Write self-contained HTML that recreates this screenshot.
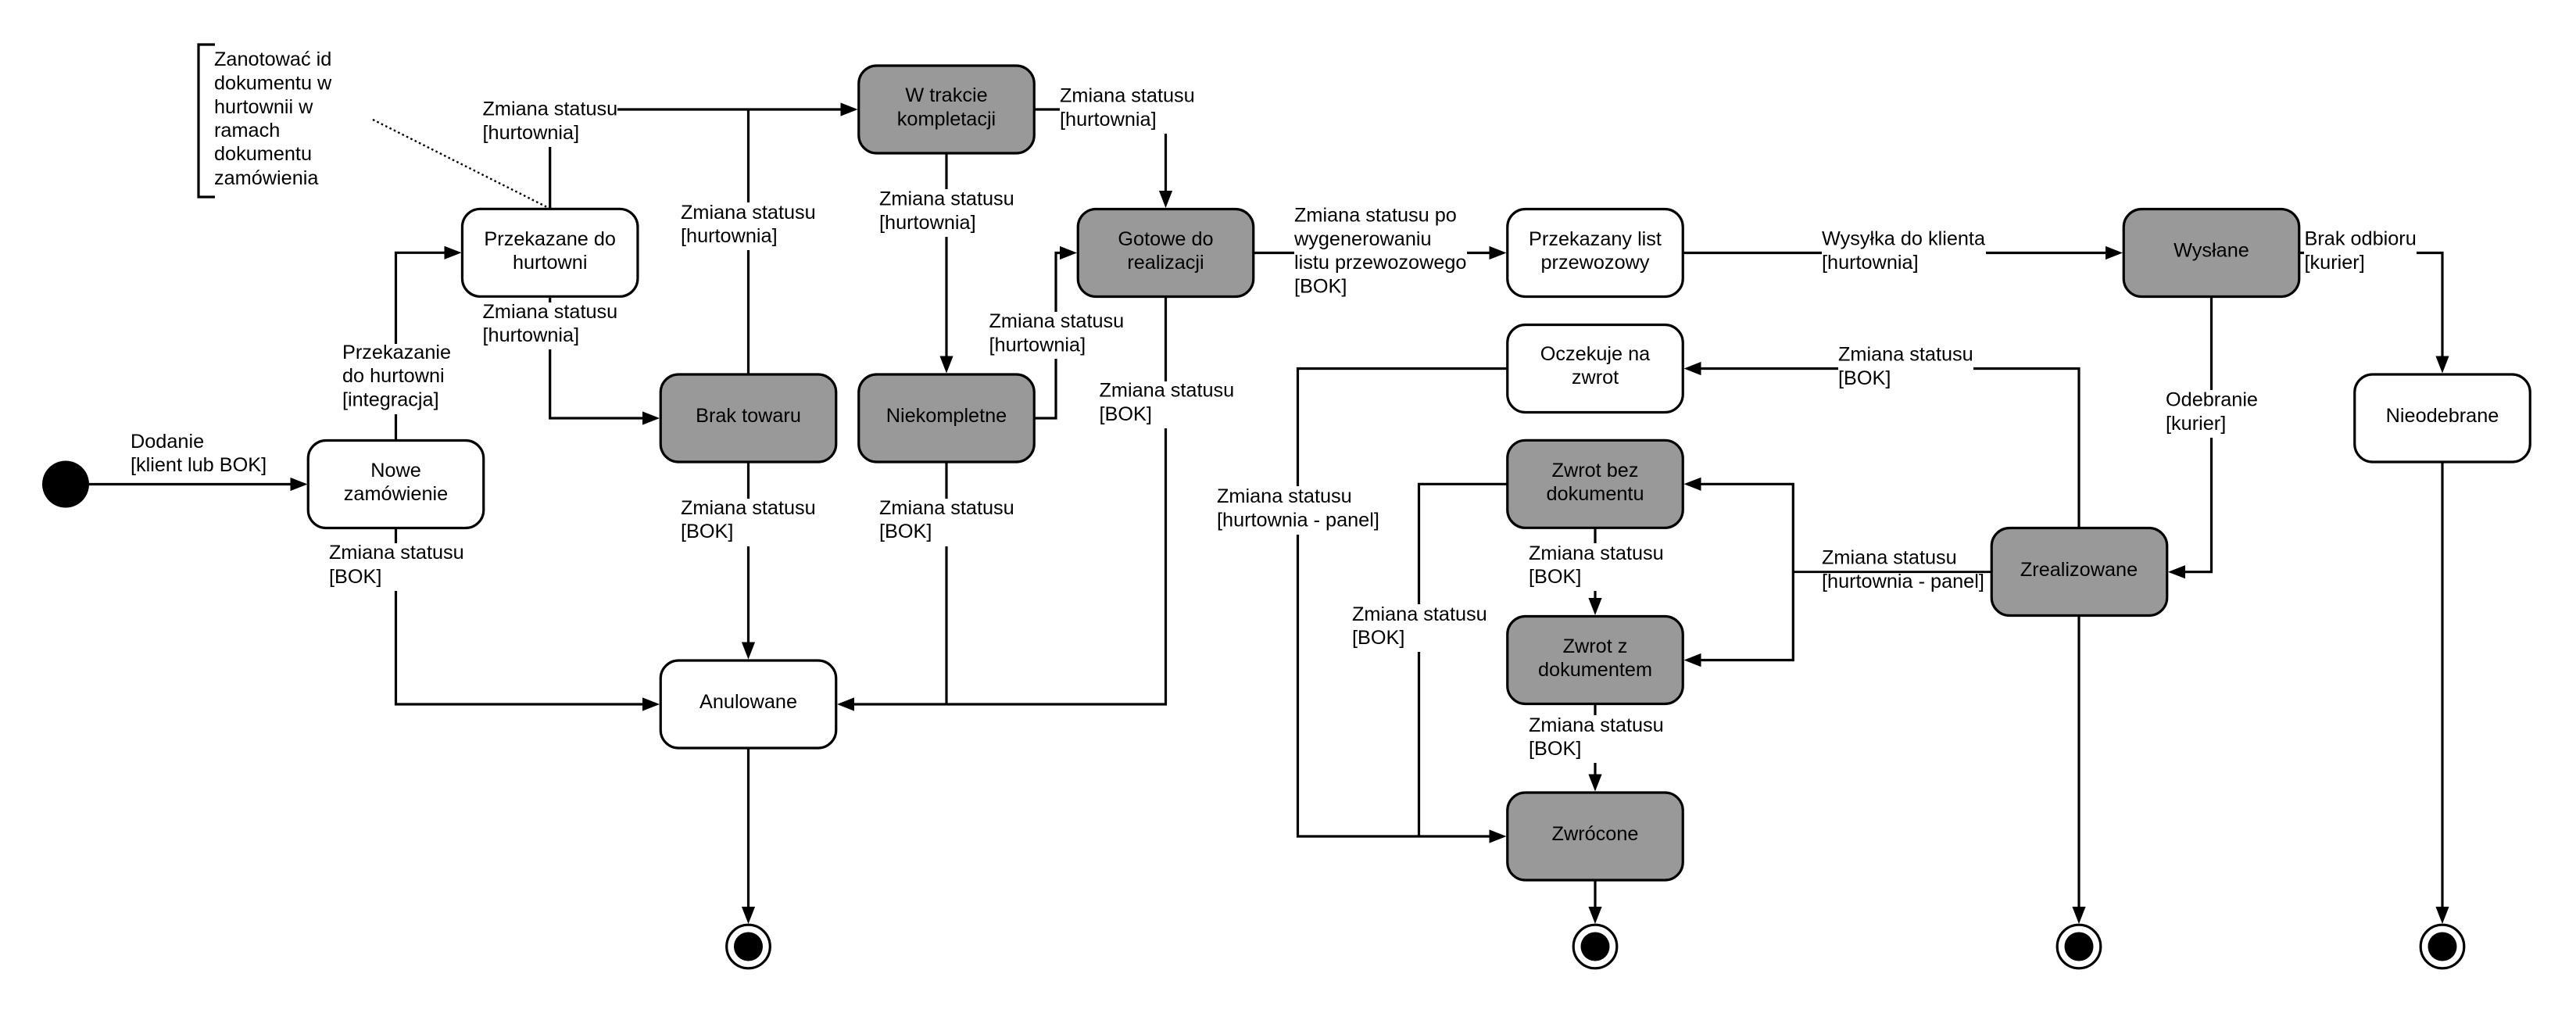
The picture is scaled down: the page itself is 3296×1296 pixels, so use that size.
<!DOCTYPE html>
<html lang="pl">
<head>
<meta charset="utf-8">
<title>Diagram stanów</title>
<style>
html,body{margin:0;padding:0;background:#fff;width:3296px;height:1296px;overflow:hidden}
svg{display:block}
text{font-family:"Liberation Sans",sans-serif;font-size:25.28px;fill:#000}
.c{text-anchor:middle}
.l{fill:none;stroke:#000;stroke-width:3.2}
.b{stroke:#000;stroke-width:3.2}
.w{fill:#fff}
.g{fill:#999}
.m{fill:#fff;stroke:none}
.a{fill:#000;stroke:none}
</style>
</head>
<body>
<svg width="3296" height="1296" viewBox="0 0 3296 1296" xmlns="http://www.w3.org/2000/svg">
<rect width="3296" height="1296" fill="#fff"/>

<!-- connectors -->
<path class="l" d="M114 619.5H375"/>
<path class="l" d="M506.5 563V323.3H572"/>
<path class="l" d="M506.5 677V901H825"/>
<path class="l" d="M703.7 267V140H1079"/>
<path class="l" d="M957.5 478V140"/>
<path class="l" d="M703.7 381V535H825"/>
<path class="l" d="M957.5 592V824"/>
<path class="l" d="M957.5 958V1162"/>
<path class="l" d="M1211 197V458"/>
<path class="l" d="M1211 592V901"/>
<path class="l" d="M1491.5 381V901H1091"/>
<path class="l" d="M1324 140H1491.5V247"/>
<path class="l" d="M1324 535H1351V323.5H1360"/>
<path class="l" d="M1604 323.5H1908"/>
<path class="l" d="M2154 323.5H2697"/>
<path class="l" d="M2942 323.5H3125V458"/>
<path class="l" d="M2829.5 381V731.7H2794"/>
<path class="l" d="M2660 675V471.5H2175"/>
<path class="l" d="M1928 471.5H1660.5V1070H1908"/>
<path class="l" d="M1928 619.3H1815.5V1070"/>
<path class="l" d="M2041 676V767"/>
<path class="l" d="M2041 902V993"/>
<path class="l" d="M2041 1127V1162"/>
<path class="l" d="M2660 789V1162"/>
<path class="l" d="M3125 592V1162"/>
<path class="l" d="M2175 619.3H2294.3V844.5H2175"/>
<path class="l" d="M2294.3 731.7H2547" style="stroke-width:2.8"/>
<path d="M477 153L700 265" fill="none" stroke="#000" stroke-width="2.4" stroke-dasharray="2.6 3.4"/>

<!-- label masks -->
<rect class="m" x="436" y="440" width="146" height="90"/>
<rect class="m" x="617" y="128" width="173" height="60"/>
<rect class="m" x="617" y="387" width="173" height="60"/>
<rect class="m" x="421" y="695" width="173" height="61"/>
<rect class="m" x="871" y="259" width="173" height="61"/>
<rect class="m" x="871" y="638" width="173" height="61"/>
<rect class="m" x="1125" y="242" width="173" height="61"/>
<rect class="m" x="1125" y="638" width="173" height="61"/>
<rect class="m" x="1356" y="110" width="173" height="61"/>
<rect class="m" x="1265" y="399" width="173" height="60"/>
<rect class="m" x="1406" y="488" width="173" height="60"/>
<rect class="m" x="1656" y="263" width="221" height="122"/>
<rect class="m" x="1557" y="622" width="208" height="62"/>
<rect class="m" x="1730" y="773" width="173" height="61"/>
<rect class="m" x="1956" y="695" width="173" height="61"/>
<rect class="m" x="1956" y="915" width="173" height="61"/>
<rect class="m" x="2331" y="293" width="210" height="61"/>
<rect class="m" x="2948" y="293" width="144" height="61"/>
<rect class="m" x="2352" y="441" width="173" height="61"/>
<rect class="m" x="2771" y="499" width="118" height="61"/>

<!-- arrowheads -->
<path class="a" d="M393.5 619.5l-22-8.6v17.2z"/>
<path class="a" d="M590.5 323.3l-22-8.6v17.2z"/>
<path class="a" d="M844 901l-22-8.6v17.2z"/>
<path class="a" d="M844 535l-22-8.6v17.2z"/>
<path class="a" d="M1097.5 140l-22-8.6v17.2z"/>
<path class="a" d="M1378 323.5l-22-8.6v17.2z"/>
<path class="a" d="M1927.5 323.5l-22-8.6v17.2z"/>
<path class="a" d="M2716 323.5l-22-8.6v17.2z"/>
<path class="a" d="M1927.5 1070l-22-8.6v17.2z"/>
<path class="a" d="M1071 901l22-8.6v17.2z"/>
<path class="a" d="M2154.5 471.5l22-8.6v17.2z"/>
<path class="a" d="M2154.5 619.3l22-8.6v17.2z"/>
<path class="a" d="M2154.5 844.5l22-8.6v17.2z"/>
<path class="a" d="M2774 731.7l22-8.6v17.2z"/>
<path class="a" d="M957.5 843.5l-8.6-22h17.2z"/>
<path class="a" d="M957.5 1182l-8.6-22h17.2z"/>
<path class="a" d="M1211 477.5l-8.6-22h17.2z"/>
<path class="a" d="M1491.5 266l-8.6-22h17.2z"/>
<path class="a" d="M2041 787l-8.6-22h17.2z"/>
<path class="a" d="M2041 1012.5l-8.6-22h17.2z"/>
<path class="a" d="M2041 1182l-8.6-22h17.2z"/>
<path class="a" d="M2660 1182l-8.6-22h17.2z"/>
<path class="a" d="M3125 1182l-8.6-22h17.2z"/>
<path class="a" d="M3125 477.5l-8.6-22h17.2z"/>

<!-- nodes -->
<circle cx="84" cy="619.5" r="30" fill="#000"/>
<rect class="b w" x="394.25" y="563.5" width="224.5" height="112" rx="23"/>
<rect class="b w" x="591.45" y="267.3" width="224.5" height="112" rx="23"/>
<rect class="b g" x="845.25" y="479" width="224.5" height="112" rx="23"/>
<rect class="b w" x="845.25" y="845" width="224.5" height="112" rx="23"/>
<rect class="b g" x="1098.75" y="84" width="224.5" height="112" rx="23"/>
<rect class="b g" x="1098.75" y="479" width="224.5" height="112" rx="23"/>
<rect class="b g" x="1379.25" y="267.5" width="224.5" height="112" rx="23"/>
<rect class="b w" x="1928.75" y="267.5" width="224.5" height="112" rx="23"/>
<rect class="b w" x="1928.75" y="415.5" width="224.5" height="112" rx="23"/>
<rect class="b g" x="1928.75" y="563.3" width="224.5" height="112" rx="23"/>
<rect class="b g" x="1928.75" y="788.5" width="224.5" height="112" rx="23"/>
<rect class="b g" x="1928.75" y="1014" width="224.5" height="112" rx="23"/>
<rect class="b g" x="2717.25" y="267.5" width="224.5" height="112" rx="23"/>
<rect class="b w" x="3012.75" y="479" width="224.5" height="112" rx="23"/>
<rect class="b g" x="2548.25" y="675.5" width="224.5" height="112" rx="23"/>

<!-- final states -->
<g fill="#fff" stroke="#000" stroke-width="3.2">
<circle cx="957.5" cy="1211" r="27.8"/>
<circle cx="2041" cy="1211" r="27.8"/>
<circle cx="2660" cy="1211" r="27.8"/>
<circle cx="3125" cy="1211" r="27.8"/>
</g>
<g fill="#000">
<circle cx="957.5" cy="1211" r="18.5"/>
<circle cx="2041" cy="1211" r="18.5"/>
<circle cx="2660" cy="1211" r="18.5"/>
<circle cx="3125" cy="1211" r="18.5"/>
</g>

<!-- note bracket -->
<path d="M275 57H254V252H275" fill="none" stroke="#000" stroke-width="3.2"/>
<text x="274" y="84">Zanotować id</text>
<text x="274" y="114.5">dokumentu w</text>
<text x="274" y="145">hurtownii w</text>
<text x="274" y="175">ramach</text>
<text x="274" y="205">dokumentu</text>
<text x="274" y="236">zamówienia</text>

<!-- node labels -->
<text class="c" x="506.5" y="610">Nowe</text>
<text class="c" x="506.5" y="640">zamówienie</text>
<text class="c" x="703.7" y="314">Przekazane do</text>
<text class="c" x="703.7" y="344">hurtowni</text>
<text class="c" x="957.5" y="540">Brak towaru</text>
<text class="c" x="957.5" y="906">Anulowane</text>
<text class="c" x="1211" y="130">W trakcie</text>
<text class="c" x="1211" y="160.5">kompletacji</text>
<text class="c" x="1211" y="540">Niekompletne</text>
<text class="c" x="1491.5" y="314">Gotowe do</text>
<text class="c" x="1491.5" y="344">realizacji</text>
<text class="c" x="2041" y="314">Przekazany list</text>
<text class="c" x="2041" y="344">przewozowy</text>
<text class="c" x="2041" y="461">Oczekuje na</text>
<text class="c" x="2041" y="491">zwrot</text>
<text class="c" x="2041" y="610">Zwrot bez</text>
<text class="c" x="2041" y="640">dokumentu</text>
<text class="c" x="2041" y="835">Zwrot z</text>
<text class="c" x="2041" y="865">dokumentem</text>
<text class="c" x="2041" y="1075">Zwrócone</text>
<text class="c" x="2829.5" y="328.5">Wysłane</text>
<text class="c" x="3125" y="540">Nieodebrane</text>
<text class="c" x="2660" y="737">Zrealizowane</text>

<!-- connector labels -->
<text x="167" y="573">Dodanie</text>
<text x="167" y="603">[klient lub BOK]</text>
<text x="438" y="459">Przekazanie</text>
<text x="438" y="489">do hurtowni</text>
<text x="438" y="519.5">[integracja]</text>
<text x="617.5" y="147.5">Zmiana statusu</text>
<text x="617.5" y="178">[hurtownia]</text>
<text x="617.5" y="407">Zmiana statusu</text>
<text x="617.5" y="437">[hurtownia]</text>
<text x="421" y="715">Zmiana statusu</text>
<text x="421" y="746">[BOK]</text>
<text x="871" y="280">Zmiana statusu</text>
<text x="871" y="310">[hurtownia]</text>
<text x="871" y="658">Zmiana statusu</text>
<text x="871" y="688">[BOK]</text>
<text x="1125" y="262.5">Zmiana statusu</text>
<text x="1125" y="293">[hurtownia]</text>
<text x="1125" y="658">Zmiana statusu</text>
<text x="1125" y="688">[BOK]</text>
<text x="1356" y="130.5">Zmiana statusu</text>
<text x="1356" y="161">[hurtownia]</text>
<text x="1265.5" y="419">Zmiana statusu</text>
<text x="1265.5" y="449.5">[hurtownia]</text>
<text x="1406.5" y="507.5">Zmiana statusu</text>
<text x="1406.5" y="538">[BOK]</text>
<text x="1656" y="283.5">Zmiana statusu po</text>
<text x="1656" y="314">wygenerowaniu</text>
<text x="1656" y="344">listu przewozowego</text>
<text x="1656" y="374.5">[BOK]</text>
<text x="1557" y="643">Zmiana statusu</text>
<text x="1557" y="673.5">[hurtownia - panel]</text>
<text x="1730" y="794">Zmiana statusu</text>
<text x="1730" y="824">[BOK]</text>
<text x="1956" y="716">Zmiana statusu</text>
<text x="1956" y="746">[BOK]</text>
<text x="1956" y="936">Zmiana statusu</text>
<text x="1956" y="966">[BOK]</text>
<text x="2331" y="313.5">Wysyłka do klienta</text>
<text x="2331" y="344">[hurtownia]</text>
<text x="2948.5" y="313.5">Brak odbioru</text>
<text x="2948.5" y="344">[kurier]</text>
<text x="2352" y="461.5">Zmiana statusu</text>
<text x="2352" y="492">[BOK]</text>
<text x="2771" y="519.5">Odebranie</text>
<text x="2771" y="550">[kurier]</text>
<text x="2331" y="721.5">Zmiana statusu</text>
<text x="2331" y="752">[hurtownia - panel]</text>
</svg>
</body>
</html>
